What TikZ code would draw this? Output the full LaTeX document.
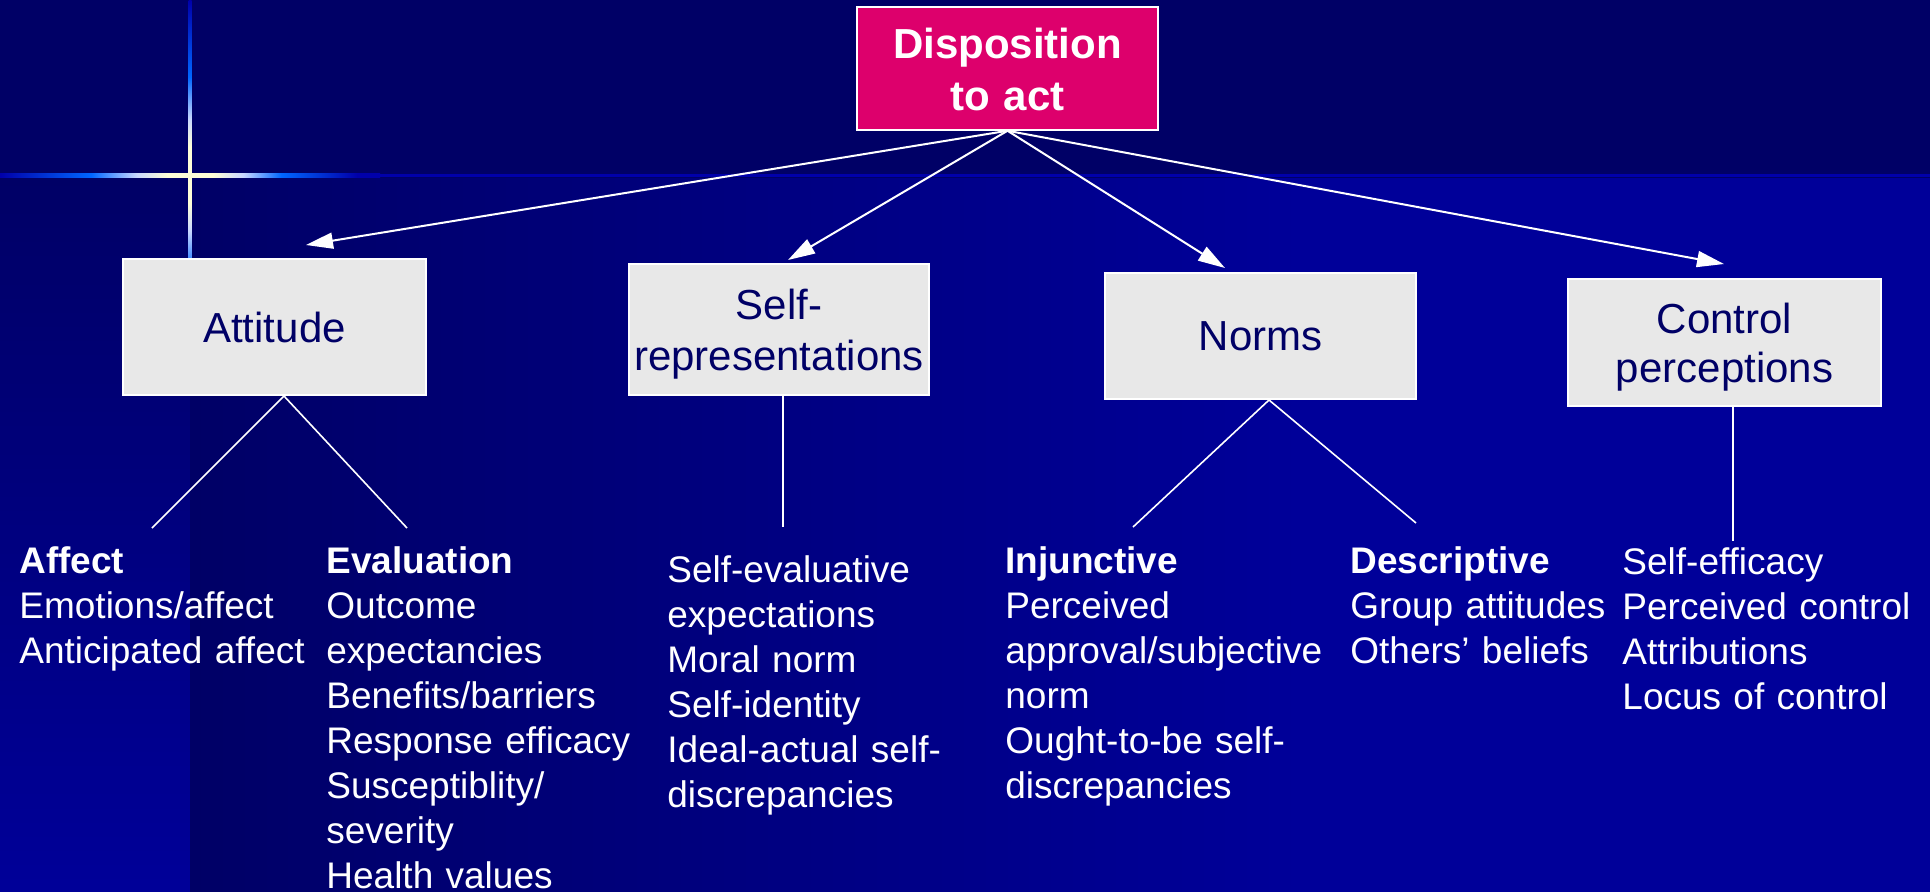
\documentclass[tikz,border=0pt]{standalone}
\usepackage{fontspec}
\setmainfont{Liberation Sans}
\usetikzlibrary{arrows.meta,calc}

% palette
\definecolor{bandnavy}{RGB}{0,0,102}
\definecolor{deepblue}{RGB}{0,0,153}
\definecolor{flaredark}{RGB}{0,0,170}
\definecolor{flareblue}{RGB}{0,102,255}
\definecolor{flarepale}{RGB}{200,215,255}
\definecolor{flarecore}{RGB}{255,255,215}
\definecolor{rootfill}{RGB}{221,0,108}
\definecolor{boxgray}{RGB}{232,232,232}
\definecolor{boxtext}{RGB}{0,0,102}

% light streaks of the cross-shaped glint
\pgfdeclarehorizontalshading{glintH}{100bp}{color(0bp)=(flaredark); color(25bp)=(flaredark);
  color(37bp)=(flareblue); color(43bp)=(flarepale); color(47bp)=(flarecore); color(53bp)=(flarecore);
  color(57bp)=(flarepale); color(62bp)=(flareblue); color(72bp)=(flaredark); color(100bp)=(flaredark)}
\pgfdeclareverticalshading{glintV}{100bp}{color(0bp)=(flaredark); color(25bp)=(flaredark);
  color(36bp)=(flareblue); color(42bp)=(flarepale); color(46bp)=(flarecore); color(54bp)=(flarecore);
  color(58bp)=(flarepale); color(64bp)=(flareblue); color(75bp)=(flaredark); color(100bp)=(flaredark)}

\tikzset{
  rootbox/.style={draw=white, line width=0.75pt, fill=rootfill, text=white, inner sep=0pt,
    align=center, text width=150.5pt, text height=15.5pt, text depth=26pt,
    font=\fontsize{21pt}{26pt}\selectfont\bfseries,
    minimum width=150.5pt, minimum height=61.5pt},
  factorbox/.style={draw=white, line width=0.75pt, fill=boxgray, text=boxtext, inner sep=0pt,
    align=center, font=\fontsize{21pt}{25.5pt}\selectfont},
  twoline/.style={text height=15pt, text depth=#1},
  leaf/.style={text=white, inner sep=0pt, anchor=base west, align=left, text width=200pt,
    font=\fontsize{18.5pt}{22.5pt}\selectfont},
  arrowline/.style={draw=white, line width=1pt, -{Triangle[length=13.5pt,width=8pt]}},
  branch/.style={draw=white, line width=0.8pt},
}

\begin{document}
\begin{tikzpicture}[x=0.5pt, y=-0.5pt]
\useasboundingbox (0,0) rectangle (1930,891);

% backdrop
\fill[bandnavy] (-10,-10) rectangle (1940,178);
\shade[top color=bandnavy, bottom color=deepblue] (-10,178) rectangle (190,900);
\shade[left color=bandnavy, right color=deepblue] (190,178) rectangle (1301,900);
\fill[deepblue] (1300,178) rectangle (1940,900);

% glint
\fill[flaredark] (380,173.5) rectangle (1940,177);
\shade[shading=glintH] (0,173.5) rectangle (380,177);
\shade[shading=glintV] (188.5,0) rectangle (191.5,350);

% boxes
\node[rootbox] (disp) at (1007.5,68.5) {Disposition\\to act};
\node[factorbox, minimum width=151.5pt, minimum height=68pt] (att) at (274.5,327) {Attitude};
\node[factorbox, twoline=25.5pt, text width=150pt, minimum width=150pt, minimum height=65.5pt]
  (self) at (779,329.5) {Self-\\representations};
\node[factorbox, minimum width=155.5pt, minimum height=63pt] (norm) at (1260.5,336) {Norms};
\node[factorbox, twoline=24.5pt, text width=156.5pt, minimum width=156.5pt, minimum height=63.5pt,
  font=\fontsize{21pt}{24.5pt}\selectfont] (ctrl) at (1724.5,342.5) {Control\\perceptions};

% arrow targets just above each factor
\coordinate (tipAtt) at (306,245);
\coordinate (tipSelf) at (788,260);
\coordinate (tipNorm) at (1225,268);
\coordinate (tipCtrl) at (1724,264);

\draw[arrowline] (disp.south) -- (tipAtt);
\draw[arrowline] (disp.south) -- (tipSelf);
\draw[arrowline] (disp.south) -- (tipNorm);
\draw[arrowline] (disp.south) -- (tipCtrl);

% branch points below the factors
\coordinate (attFork) at (284,396);
\coordinate (affEnd) at (152,528);
\coordinate (evalEnd) at (407,528);
\coordinate (selfEnd) at (783,527);
\coordinate (normFork) at (1269,400);
\coordinate (injEnd) at (1133,527);
\coordinate (descEnd) at (1416,523);
\coordinate (ctrlEnd) at (1733,541);

\draw[branch] (attFork) -- (affEnd);
\draw[branch] (attFork) -- (evalEnd);
\draw[branch] (self.south -| selfEnd) -- (selfEnd);
\draw[branch] (normFork) -- (injEnd);
\draw[branch] (normFork) -- (descEnd);
\draw[branch] (ctrl.south -| ctrlEnd) -- (ctrlEnd);

% item lists
\node[leaf] (affect) at (19,573) {\textbf{Affect}\\Emotions/affect\\Anticipated affect};
\node[leaf] (evaluation) at (326,573) {\textbf{Evaluation}\\Outcome\\expectancies\\Benefits/barriers\\Response efficacy\\Susceptiblity/\\severity\\Health values};
\node[leaf] (selfitems) at (667,582) {Self-evaluative\\expectations\\Moral norm\\Self-identity\\Ideal-actual self-\\discrepancies};
\node[leaf] (injunctive) at (1005,573) {\textbf{Injunctive}\\Perceived\\approval/subjective\\norm\\Ought-to-be self-\\discrepancies};
\node[leaf] (descriptive) at (1350,573) {\textbf{Descriptive}\\Group attitudes\\Others’ beliefs};
\node[leaf] (ctrlitems) at (1622,574) {Self-efficacy\\Perceived control\\Attributions\\Locus of control};
\end{tikzpicture}
\end{document}
